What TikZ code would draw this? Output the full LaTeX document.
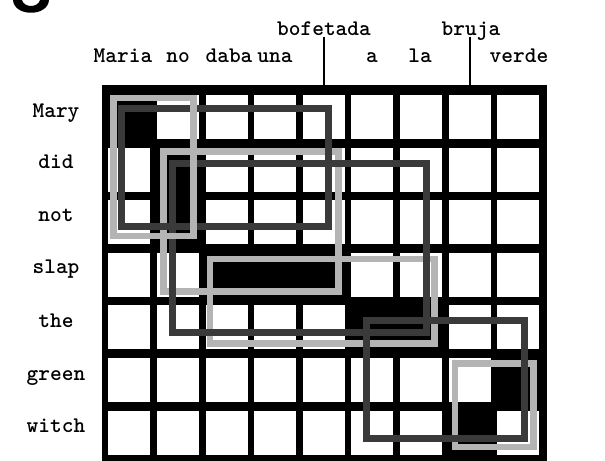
\documentclass[tikz,border=0pt]{standalone}
\usepackage{fontspec}
\definecolor{lightg}{HTML}{B4B4B4}
\definecolor{darkg}{HTML}{3A3A3A}
\begin{document}
\begin{tikzpicture}[x=1bp,y=-1bp,
  lbl/.style={font=\fontsize{22.3bp}{24bp}\selectfont\ttfamily\bfseries, inner sep=0pt, anchor=base},
  lightbox/.style={draw=lightg, line width=6.5bp},
  darkbox/.style={draw=darkg, line width=7bp},
  link/.style={line width=1.5bp}]
\useasboundingbox[fill=white] (0,0) rectangle (605,461);
% partial glyph at top left
\fill (13,0) .. controls (14,17) and (48,17) .. (49,0) -- (40,0) .. controls (38,8) and (24,8) .. (22,0) -- cycle;
% grid
\fill[black] (101.7,85) rectangle (546.7,461);
\foreach \i in {0,...,8}{
  \foreach \j in {0,...,6}{
    \pgfmathsetmacro{\xa}{108.3+48.6*\i}
    \pgfmathsetmacro{\ya}{95+52.6*\j}
    \fill[white] (\xa,\ya) rectangle ++(42,44);
  }
}
% alignment points (black cells)
\foreach \i/\j in {0/0, 1/1, 1/2, 2/3, 3/3, 4/3, 5/4, 6/4, 8/5, 7/6}{
  \pgfmathsetmacro{\xa}{108.3+48.6*\i}
  \pgfmathsetmacro{\ya}{95+52.6*\j}
  \fill[black] (\xa,\ya) rectangle ++(42,44);
}
% phrase boxes
\draw[lightbox] (163.5,151.5) rectangle (338.3,291.5);
\draw[lightbox] (210,259) rectangle (434.5,343.5);
\draw[lightbox] (455,363.5) rectangle (533.5,447);
\draw[darkbox] (121.5,108.5) rectangle (328.5,226.5);
\draw[darkbox] (172.5,164) rectangle (426.5,332);
\draw[darkbox] (366.5,320.5) rectangle (524.5,438.5);
\draw[lightbox] (113.5,98) rectangle (193.5,236);
% row labels
\node[lbl] (mary) at (56,118) {Mary};
\node[lbl] (did) at (56,169) {did};
\node[lbl] (not) at (56,222) {not};
\node[lbl] (slap) at (56,274) {slap};
\node[lbl] (the) at (56,327) {the};
\node[lbl] (green) at (56,380) {green};
\node[lbl] (witch) at (56,432) {witch};
% column labels
\node[lbl] (maria) at (123,63) {Maria};
\node[lbl] (no) at (178,63) {no};
\node[lbl] (daba) at (229,63) {daba};
\node[lbl] (una) at (275,63) {una};
\node[lbl] (a) at (372,63) {a};
\node[lbl] (la) at (420,63) {la};
\node[lbl] (verde) at (519,63) {verde};
\node[lbl] (bofetada) at (324,36) {bofetada};
\node[lbl] (bruja) at (471,36) {bruja};
\coordinate (boftop) at (324,85);
\coordinate (brutop) at (470,85);
\draw[link] ([yshift=-1bp]bofetada.base) -- (boftop);
\draw[link] ([xshift=-1bp,yshift=-1bp]bruja.base) -- (brutop);
\end{tikzpicture}
\end{document}
